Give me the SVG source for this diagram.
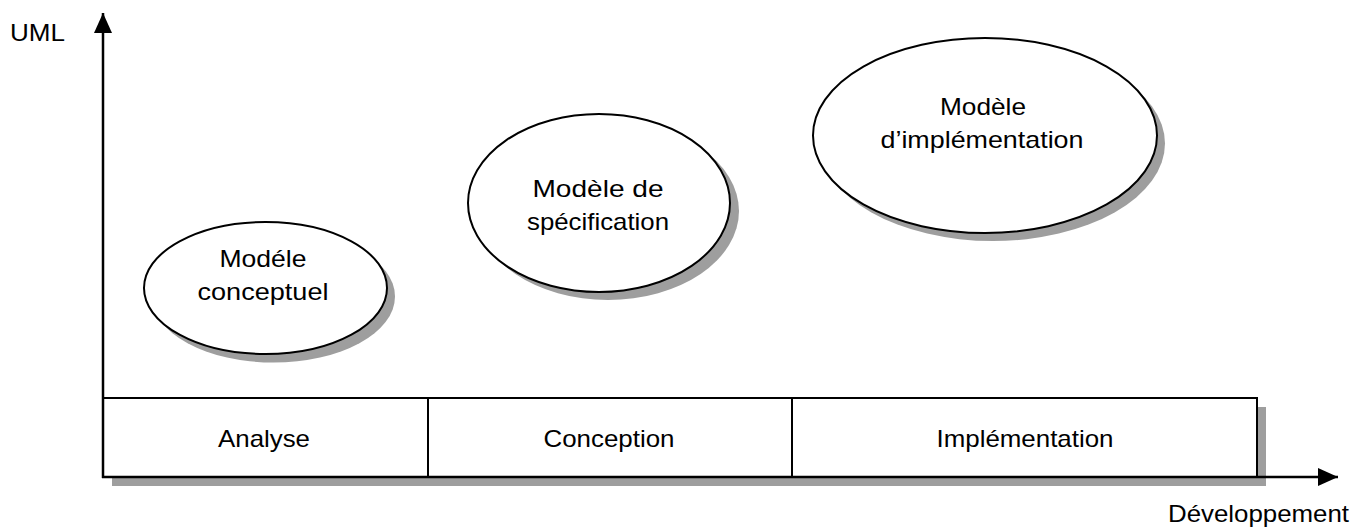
<svg xmlns="http://www.w3.org/2000/svg" width="1367" height="531" viewBox="0 0 1367 531">
  <style>
    .lbl { font-family: "Liberation Sans", Arial, sans-serif; font-size: 24px; fill: #000; }
    .mid { text-anchor: middle; }
    .shadow { fill: #9e9e9e; stroke: none; }
    .shape { fill: #fff; stroke: #000; stroke-width: 2; }
    .axis { fill: none; stroke: #000; stroke-width: 2.5; }
  </style>
  <defs>
    <marker id="arrow" viewBox="0 0 20 18" refX="20" refY="9" markerWidth="20" markerHeight="18" markerUnits="userSpaceOnUse" orient="auto">
      <path d="M0,0 L20,9 L0,18 Z" fill="#000"/>
    </marker>
  </defs>

  <rect width="1367" height="531" fill="#fff"/>

  <!-- axis captions -->
  <text class="lbl" x="10" y="41" textLength="55" lengthAdjust="spacingAndGlyphs">UML</text>
  <text class="lbl" x="1168" y="522" textLength="181" lengthAdjust="spacingAndGlyphs">Développement</text>

  <!-- development phases -->
  <g id="phases">
    <rect class="shadow" x="112" y="407" width="1154" height="79"/>
    <g id="phase-analyse">
      <rect class="shape" x="103" y="398" width="325" height="79"/>
      <text class="lbl mid" x="264" y="447" textLength="92" lengthAdjust="spacingAndGlyphs">Analyse</text>
    </g>
    <g id="phase-conception">
      <rect class="shape" x="428" y="398" width="364" height="79"/>
      <text class="lbl mid" x="609" y="447" textLength="131" lengthAdjust="spacingAndGlyphs">Conception</text>
    </g>
    <g id="phase-implementation">
      <rect class="shape" x="792" y="398" width="465" height="79"/>
      <text class="lbl mid" x="1025" y="447" textLength="177" lengthAdjust="spacingAndGlyphs">Implémentation</text>
    </g>
  </g>

  <!-- models -->
  <g id="model-conceptuel">
    <ellipse class="shadow" cx="273.5" cy="296.5" rx="121.5" ry="66"/>
    <ellipse class="shape" cx="265.5" cy="288" rx="121.5" ry="66"/>
    <text class="lbl mid" x="263" y="267" textLength="87" lengthAdjust="spacingAndGlyphs">Modéle</text>
    <text class="lbl mid" x="263" y="300" textLength="131" lengthAdjust="spacingAndGlyphs">conceptuel</text>
  </g>

  <g id="model-specification">
    <ellipse class="shadow" cx="608" cy="211" rx="131" ry="89"/>
    <ellipse class="shape" cx="599" cy="203" rx="131" ry="89"/>
    <text class="lbl mid" x="598" y="197" textLength="131" lengthAdjust="spacingAndGlyphs">Modèle de</text>
    <text class="lbl mid" x="598" y="230" textLength="142" lengthAdjust="spacingAndGlyphs">spécification</text>
  </g>

  <g id="model-implementation">
    <ellipse class="shadow" cx="993" cy="143.5" rx="172" ry="97.5"/>
    <ellipse class="shape" cx="985" cy="135.5" rx="172" ry="97.5"/>
    <text class="lbl mid" x="983" y="115" textLength="86" lengthAdjust="spacingAndGlyphs">Modèle</text>
    <text class="lbl mid" x="982" y="148" textLength="203" lengthAdjust="spacingAndGlyphs">d’implémentation</text>
  </g>

  <!-- axes -->
  <g id="connectors">
    <line class="axis" x1="103" y1="478" x2="103" y2="13" marker-end="url(#arrow)"/>
    <line class="axis" x1="102" y1="477" x2="1338" y2="477" marker-end="url(#arrow)"/>
  </g>
</svg>
